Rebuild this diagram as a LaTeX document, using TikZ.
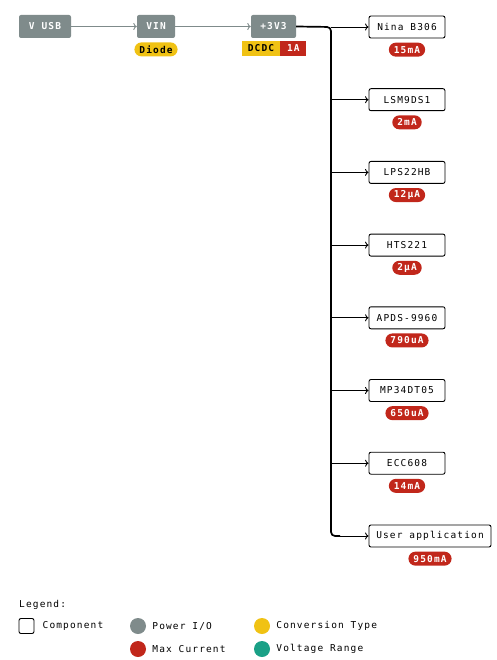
\documentclass[tikz,border=0pt]{standalone}
\usepackage{fontspec}
\setmonofont[LetterSpace=12]{DejaVu Sans Mono}
\usepackage{tikz}
\usetikzlibrary{positioning, arrows.meta}

\definecolor{pwrgray}{HTML}{7F8B8B}
\definecolor{convyellow}{HTML}{F0C214}
\definecolor{currred}{HTML}{C1271B}
\definecolor{voltteal}{HTML}{1AA086}

\begin{document}
\begin{tikzpicture}[
    x=1pt, y=-1pt,
    font=\ttfamily\fontsize{9.5}{11}\selectfont,
    pwr/.style={rectangle, rounded corners=2pt, fill=pwrgray, text=white, font=\ttfamily\bfseries\fontsize{9.5}{11}\selectfont, minimum height=23pt, inner xsep=0pt},
    comp/.style={rectangle, rounded corners=2pt, draw=black, line width=0.9pt, fill=white, minimum width=76pt, minimum height=22pt},
    pill/.style={rectangle, rounded corners=7pt, minimum height=14pt, inner ysep=0pt, inner xsep=5pt, font=\ttfamily\bfseries\fontsize{9.5}{11}\selectfont},
    curr/.style={pill, fill=currred, text=white},
    conv/.style={pill, fill=convyellow, text=black},
    tag/.style={rectangle, minimum height=15pt, inner ysep=0pt, inner xsep=0pt, font=\ttfamily\bfseries\fontsize{9.5}{11}\selectfont},
    feed/.style={draw=pwrgray, line width=0.9pt, -{To[length=3.5pt, width=7pt]}},
    rail/.style={draw=black, line width=1.7pt},
    branch/.style={draw=black, line width=0.9pt, -{To[length=3.5pt, width=7pt]}},
    dot/.style={circle, minimum size=16pt, inner sep=0pt},
    legtext/.style={anchor=west, inner sep=0pt}
]
\useasboundingbox (0,0) rectangle (497,660);

% power path
\node [pwr, minimum width=52pt] (vusb) at (45,26.5) {V USB};
\node [pwr, minimum width=38pt] (vin) at (156,26.5) {VIN};
\node [pwr, minimum width=45pt] (v33) at (273.5,26.5) {+3V3};
\node [conv, below=4pt of vin] (diode) {Diode};
\node [tag, fill=convyellow, minimum width=38pt] (dcdc) at (261,48.5) {DCDC};
\node [tag, fill=currred, text=white, minimum width=26pt, right=0pt of dcdc] (dcdcamp) {1A};

\draw [feed] (vusb) -- (vin);
\draw [feed] (vin) -- (v33);

% loads on the 3V3 rail
\foreach \name/\label/\cur [count=\i from 0] in {nina/Nina B306/15mA, lsm/LSM9DS1/2mA, lps/LPS22HB/12µA, hts/HTS221/2µA, apds/APDS-9960/790uA, mp/MP34DT05/650uA, ecc/ECC608/14mA} {
    \node [comp] (\name) at (407,{27+72.7*\i}) {\label};
    \node [curr, below=4pt of \name] (\name-cur) {\cur};
}
\node [comp, minimum width=122pt] (user) at (430,536) {User application};
\node [curr, below=4pt of user] (user-cur) {950mA};

\coordinate (ttop) at (331,27);
\coordinate (tbot) at (331,536);
\coordinate (tend) at (340,536);
\draw [rail, rounded corners=4pt] (v33.east) -- (ttop) -- (tbot) -- (tend);
\draw [branch] (tend) -- (user.west);
\foreach \name in {nina, lsm, lps, hts, apds, mp, ecc}
    \draw [branch] (\name.west -| ttop) -- (\name.west);

% legend
\node [legtext] (legend) at (19,605) {Legend:};
\node [rectangle, rounded corners=2pt, draw=black, line width=0.9pt, minimum size=15pt, inner sep=0pt] (legcomp) at (26.5,626) {};
\node [legtext, right=8pt of legcomp] {Component};
\node [dot, fill=pwrgray] (legpwr) at (138,626) {};
\node [legtext, right=6pt of legpwr] {Power I/O};
\node [dot, fill=convyellow] (legconv) at (262,626) {};
\node [legtext, right=6pt of legconv] {Conversion Type};
\node [dot, fill=currred] (legcurr) at (138,649) {};
\node [legtext, right=6pt of legcurr] {Max Current};
\node [dot, fill=voltteal] (legvolt) at (262,649) {};
\node [legtext, right=6pt of legvolt] {Voltage Range};
\end{tikzpicture}
\end{document}
